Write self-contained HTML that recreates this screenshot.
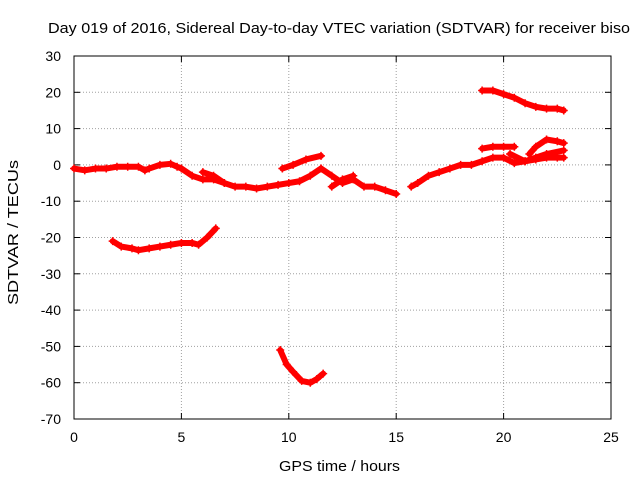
<!DOCTYPE html>
<html><head><meta charset="utf-8"><style>
body{margin:0;background:#fff}
svg{display:block;font-family:"Liberation Sans",sans-serif;font-size:14px}
</style></head><body>
<svg id="c" width="640" height="480"></svg>
<script>
const xTicks=[0,5,10,15,20,25];
const yTicks=[30,20,10,0,-10,-20,-30,-40,-50,-60,-70];
const segMain=[[0,-1],[0.5,-1.5],[1,-1],[1.5,-1],[2,-0.5],[2.5,-0.5],[3,-0.5],[3.3,-1.5],[3.5,-1],[4,0],[4.5,0.3],[4.8,-0.5],[5,-1],[5.5,-3],[6,-4],[6.5,-4],[7,-5],[7.5,-6],[8,-6],[8.5,-6.5],[9,-6],[9.5,-5.5],[10,-5],[10.5,-4.5],[11,-3],[11.5,-1]];
const segBranch=[[6,-2],[6.5,-3],[7,-5]];
const segB=[[9.7,-1],[10.2,0],[10.8,1.5],[11.5,2.5]];
const segC=[[11.5,-1],[12,-3],[12.5,-5],[13,-4],[13.5,-6],[14,-6],[14.5,-7],[15,-8]];
const segC2=[[12,-6],[12.5,-4],[13,-3]];
const segD=[[15.7,-6],[16,-5],[16.5,-3],[17,-2],[17.5,-1],[18,0],[18.5,0],[19,1],[19.5,2],[20,2],[20.5,0.5],[21,1],[21.5,1.5],[22,2],[22.5,2],[22.8,2]];
const segE=[[19,4.5],[19.5,5],[20,5],[20.5,5]];
const segF=[[20.3,3],[21,1],[21.5,2],[22,3],[22.8,4]];
const segG=[[21.2,3],[21.5,5],[22,7],[22.5,6.5],[22.8,6]];
const segH=[[19,20.5],[19.5,20.5],[20,19.5],[20.5,18.5],[21,17],[21.5,16],[22,15.5],[22.5,15.5],[22.8,15]];
const segI=[[1.8,-21],[2.2,-22.5],[2.7,-23],[3,-23.5],[3.5,-23],[4,-22.5],[4.5,-22],[5,-21.5],[5.5,-21.5],[5.8,-22],[6.2,-20],[6.6,-17.5]];
const segJ=[[9.6,-51],[9.9,-55],[10.2,-57],[10.6,-59.5],[11,-60],[11.3,-59],[11.6,-57.5]];
const series=[segMain,segBranch,segB,segC,segC2,segD,segE,segF,segG,segH,segI,segJ];
const X0=74,X1=611,Y0=419,Y1=56;
const xs=v=>X0+(v-0)/25*(X1-X0);
const ys=v=>Y0-(v+70)/100*(Y0-Y1);
const svg=document.getElementById('c');
const NS='http://www.w3.org/2000/svg';
function mk(t,a,p){const e=document.createElementNS(NS,t);for(const k in a)e.setAttribute(k,a[k]);(p||svg).appendChild(e);return e;}
const grid=mk('g',{});


xTicks.forEach(t=>{const x=xs(t);
 if(t>0&&t<25)mk('line',{x1:x,x2:x,y1:Y1,y2:Y0,stroke:'#a0a0a0','stroke-dasharray':'1,2'},grid);
 mk('line',{x1:x,x2:x,y1:Y0,y2:Y0-6,stroke:'#000'},grid);mk('line',{x1:x,x2:x,y1:Y1,y2:Y1+6,stroke:'#000'},grid);
 const l=mk('text',{x:x,y:Y0+23,'text-anchor':'middle'});l.textContent=t;
 
 });
yTicks.forEach(t=>{const y=ys(t);
 if(t>-70&&t<30)mk('line',{x1:X0,x2:X1,y1:y,y2:y,stroke:'#a0a0a0','stroke-dasharray':'1,2'},grid);
 mk('line',{x1:X0,x2:X0+6,y1:y,y2:y,stroke:'#000'},grid);mk('line',{x1:X1,x2:X1-6,y1:y,y2:y,stroke:'#000'},grid);
 const l=mk('text',{x:X0-13,y:y+5,'text-anchor':'end'});l.textContent=t;
 
 });
const frame=mk('rect',{x:X0,y:Y1,width:X1-X0,height:Y0-Y1,fill:'none',stroke:'#000'});


series.forEach(s=>{
 const g=mk('g',{});
 
 
 mk('polyline',{points:s.map(p=>xs(p[0])+','+ys(p[1])).join(' '),fill:'none',stroke:'#f00','stroke-width':6,'stroke-linejoin':'round','stroke-linecap':'round'},g);
 s.forEach(p=>{const x=xs(p[0]),y=ys(p[1]);
  mk('path',{d:`M${x-4},${y}h8M${x},${y-4}v8`,stroke:'#f00','stroke-width':1.5},g);});
});
const t=mk('text',{x:48,y:33,textLength:582,lengthAdjust:'spacingAndGlyphs','font-size':15});t.textContent='Day 019 of 2016, Sidereal Day-to-day VTEC variation (SDTVAR) for receiver biso';


const xl=mk('text',{x:279,y:471,textLength:121,lengthAdjust:'spacingAndGlyphs','font-size':15});xl.textContent='GPS time / hours';


const yl=mk('text',{x:0,y:0,textLength:145,lengthAdjust:'spacingAndGlyphs','font-size':15,transform:'translate(18 305) rotate(-90)'});yl.textContent='SDTVAR / TECUs';


</script>
</body></html>
